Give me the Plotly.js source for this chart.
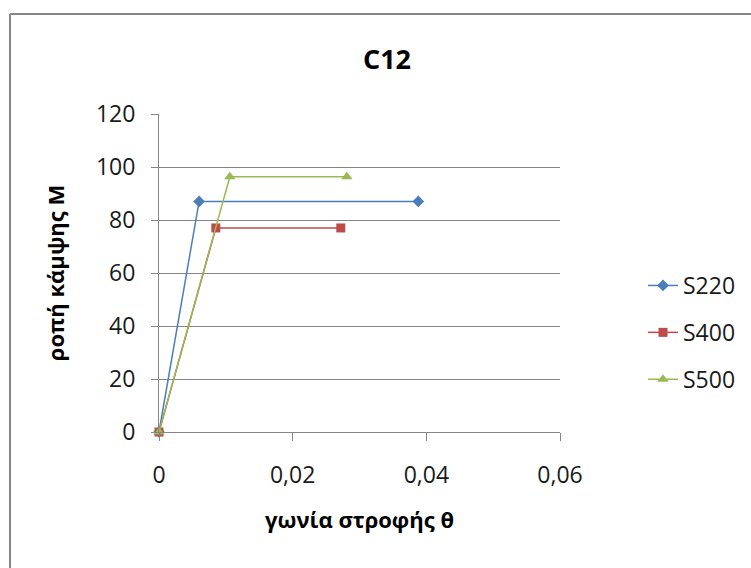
<!DOCTYPE html>
<html>
<head>
<meta charset="utf-8">
<script src="https://cdn.plot.ly/plotly-3.0.1.min.js"></script>
<style>html,body{margin:0;padding:0;background:#fff;} #chart{width:751px;height:568px;}</style>
</head>
<body>
<div id="chart"></div>
<script>
const seriesNames = ["S220", "S400", "S500"];
const s220X = [0, 0.006, 0.0388];
const s220Y = [0, 87, 87];
const s400X = [0, 0.0085, 0.0272];
const s400Y = [0, 77, 77];
const s500X = [0, 0.0106, 0.0281];
const s500Y = [0, 96.3, 96.3];
const xTickVals = [0, 0.02, 0.04, 0.06];
const xTickText = ["0", "0,02", "0,04", "0,06"];
const yTickVals = [0, 20, 40, 60, 80, 100, 120];

const FONT = "Open Sans, Noto Sans, sans-serif";
const TXT = "#1a1a1a";
const traces = [
  {x: s220X, y: s220Y, name: seriesNames[0], legendgroup: "a", mode: "lines+markers", cliponaxis: false,
   line: {color: "#4A7EBB", width: 1.5}, marker: {symbol: "diamond", size: 9, color: "#4A7EBB"}},
  {x: s400X, y: s400Y, name: seriesNames[1], legendgroup: "b", mode: "lines+markers", cliponaxis: false,
   line: {color: "#BE4B48", width: 1.5}, marker: {symbol: "square", size: 9, color: "#BE4B48"}},
  {x: s500X, y: s500Y, name: seriesNames[2], legendgroup: "c", mode: "lines+markers", cliponaxis: false,
   line: {color: "#98B954", width: 1.5}, marker: {symbol: "triangle-up", size: 10, color: "#98B954"}}
];
const layout = {
  width: 751, height: 568,
  margin: {l: 159, r: 191, t: 114, b: 136, autoexpand: false},
  paper_bgcolor: "#fff", plot_bgcolor: "#fff",
  font: {family: FONT, size: 23, color: TXT},
  title: {text: "<b>C12</b>", font: {family: FONT, size: 27, color: "#000"}, x: 387/751, xanchor: "center", y: 1 - 60/568, yanchor: "middle"},
  xaxis: {range: [0, 0.06], tickvals: xTickVals, ticktext: xTickText, showgrid: false, zeroline: false,
    showline: true, linecolor: "#868686", linewidth: 1, ticks: "outside", ticklen: 8, tickcolor: "#868686",
    tickfont: {size: 23, family: FONT, color: TXT}, ticklabelstandoff: 14,
    title: {text: "<b>γωνία στροφής θ</b>", font: {size: 22, family: FONT, color: "#000"}, standoff: 24}},
  yaxis: {range: [0, 120], tickvals: yTickVals, showgrid: true, gridcolor: "#868686", gridwidth: 1, zeroline: false,
    showline: true, linecolor: "#868686", linewidth: 1, ticks: "outside", ticklen: 7, tickcolor: "#868686",
    tickfont: {size: 23, family: FONT, color: TXT}, ticklabelstandoff: 11,
    title: {text: "<b>ροπή κάμψης M</b>", font: {size: 22, family: FONT, color: "#000"}, standoff: 25}},
  legend: {x: (643-159)/401, xanchor: "left", y: (432-264)/318, yanchor: "top", font: {size: 23, family: FONT, color: TXT},
    tracegroupgap: 14, bgcolor: "rgba(0,0,0,0)"},
  showlegend: true,
  shapes: [
    {type: "line", xref: "paper", yref: "paper", x0: (10-159)/401, x1: (10-159)/401, y0: (432-14)/318, y1: (432-600)/318,
     line: {color: "#868686", width: 2}},
    {type: "line", xref: "paper", yref: "paper", x0: (10-159)/401, x1: (800-159)/401, y0: (432-14)/318, y1: (432-14)/318,
     line: {color: "#868686", width: 2}}
  ]
};
Plotly.newPlot("chart", traces, layout, {displayModeBar: false, staticPlot: true});
</script>
</body>
</html>
